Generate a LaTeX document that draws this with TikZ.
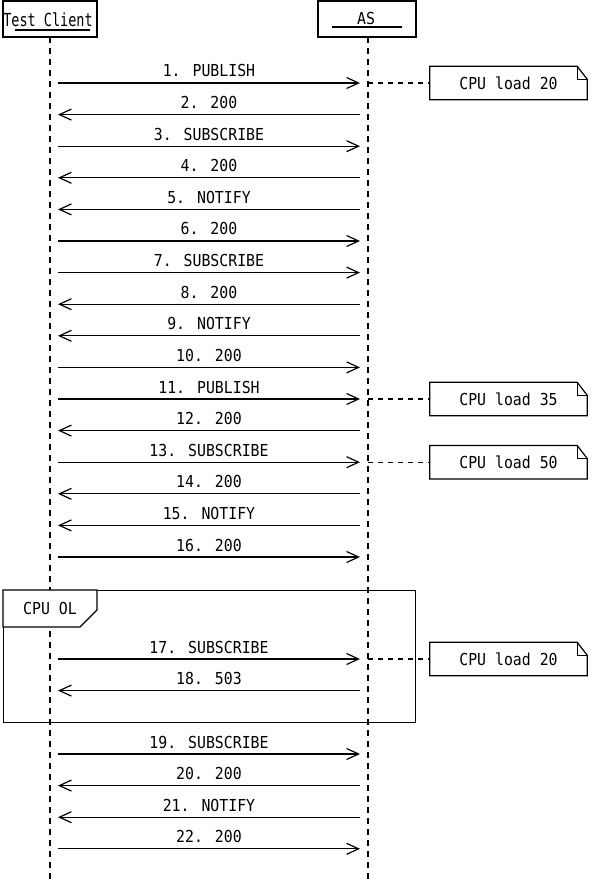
\documentclass[tikz,border=0pt]{standalone}
\usepackage{fontspec}
\newfontfamily\seqfont[FakeStretch=0.9]{DejaVu Sans Mono}
\newfontfamily\tcfont[FakeStretch=0.75]{DejaVu Sans Mono}
\usetikzlibrary{arrows.meta}
\tikzset{
  txt/.style={font=\seqfont\fontsize{16.5}{18}\selectfont, inner sep=0pt},
  actor/.style={draw, line width=1.2pt, minimum width=94pt, minimum height=36pt, inner sep=0pt},
  lifeline/.style={line width=1.2pt, dash pattern=on 6pt off 5pt},
  msg/.style={line width=1.2pt, -{Straight Barb[length=12pt,width=11pt,line width=1.2pt]}},
  lbl/.style={txt, anchor=base, yshift=6pt},
  notebox/.style={txt, minimum width=157pt, minimum height=33pt},
  noteline/.style={line width=1.2pt, line join=miter},
  notelink/.style={line width=1.2pt, dash pattern=on 5pt off 5pt},
  framebox/.style={draw, line width=1.2pt, minimum width=412pt, minimum height=132pt, inner sep=0pt, anchor=north west}
}
\begin{document}
\begin{tikzpicture}[x=1pt,y=-1pt]
\useasboundingbox (0,0) rectangle (591,882);
% actors
\node[actor] (tc) at (50,19) {};
\node[actor, minimum width=98pt] (as) at (367,19) {};
\node[txt, font=\tcfont\fontsize{18}{20}\selectfont, anchor=base] (tcl) at (48,27) {Test Client};
\node[txt, anchor=base] (asl) at (366,25) {AS};
\draw[line width=1.2pt] (15,30) -- (90,30);
\draw[line width=1.2pt] (332,27) -- (402,27);
% lifelines
\coordinate (tcend) at (50,882);
\coordinate (asend) at (368,882);
\draw[lifeline] (50,37) -- (tcend);
\draw[lifeline] (368,37) -- (asend);
% frame
\node[framebox] (frame) at (3,590) {};
\draw[line width=1.2pt, fill=white] (3,590) -- (3,627) -- (80,627) -- (97,610) -- (97,590) -- cycle;
\node[txt] (frl) at (50,608) {CPU OL};
% message coordinates
\foreach \i/\y in {1/83,2/114.6,3/146.2,4/177.8,5/209.4,6/241,7/272.6,8/304.2,9/335.8,10/367.4,11/399,12/430.6,13/462.2,14/493.8,15/525.4,16/557,17/659,18/690.6,19/754,20/785.6,21/817.2,22/848.8}{
  \coordinate (L\i) at (58,\y);
  \coordinate (R\i) at (360,\y);
  \coordinate (A\i) at (368,\y);
}
% messages
\draw[msg] (L1) -- node[lbl]{1. PUBLISH} (R1);
\draw[msg] (R2) -- node[lbl]{2. 200} (L2);
\draw[msg] (L3) -- node[lbl]{3. SUBSCRIBE} (R3);
\draw[msg] (R4) -- node[lbl]{4. 200} (L4);
\draw[msg] (R5) -- node[lbl]{5. NOTIFY} (L5);
\draw[msg] (L6) -- node[lbl]{6. 200} (R6);
\draw[msg] (L7) -- node[lbl]{7. SUBSCRIBE} (R7);
\draw[msg] (R8) -- node[lbl]{8. 200} (L8);
\draw[msg] (R9) -- node[lbl]{9. NOTIFY} (L9);
\draw[msg] (L10) -- node[lbl]{10. 200} (R10);
\draw[msg] (L11) -- node[lbl]{11. PUBLISH} (R11);
\draw[msg] (R12) -- node[lbl]{12. 200} (L12);
\draw[msg] (L13) -- node[lbl]{13. SUBSCRIBE} (R13);
\draw[msg] (R14) -- node[lbl]{14. 200} (L14);
\draw[msg] (R15) -- node[lbl]{15. NOTIFY} (L15);
\draw[msg] (L16) -- node[lbl]{16. 200} (R16);
\draw[msg] (L17) -- node[lbl]{17. SUBSCRIBE} (R17);
\draw[msg] (R18) -- node[lbl]{18. 503} (L18);
\draw[msg] (L19) -- node[lbl]{19. SUBSCRIBE} (R19);
\draw[msg] (R20) -- node[lbl]{20. 200} (L20);
\draw[msg] (R21) -- node[lbl]{21. NOTIFY} (L21);
\draw[msg] (L22) -- node[lbl]{22. 200} (R22);
% notes
\node[notebox] (n1) at (508.5,83) {CPU load 20};
\node[notebox] (n11) at (508.5,399) {CPU load 35};
\node[notebox] (n13) at (508.5,462.2) {CPU load 50};
\node[notebox] (n17) at (508.5,659) {CPU load 20};
\foreach \n in {n1,n11,n13,n17}{
  \draw[noteline] (\n.south west) -- (\n.north west) -- ([xshift=-10pt]\n.north east) -- ([yshift=-13pt]\n.north east) -- (\n.south east) -- cycle;
  \draw[noteline] ([xshift=-10pt]\n.north east) -- ([xshift=-10pt,yshift=-13pt]\n.north east) -- ([yshift=-13pt]\n.north east);
}
\draw[notelink] (A1) -- (n1);
\draw[notelink] (A11) -- (n11);
\draw[notelink] (A13) -- (n13);
\draw[notelink] (A17) -- (n17);
\end{tikzpicture}
\end{document}
